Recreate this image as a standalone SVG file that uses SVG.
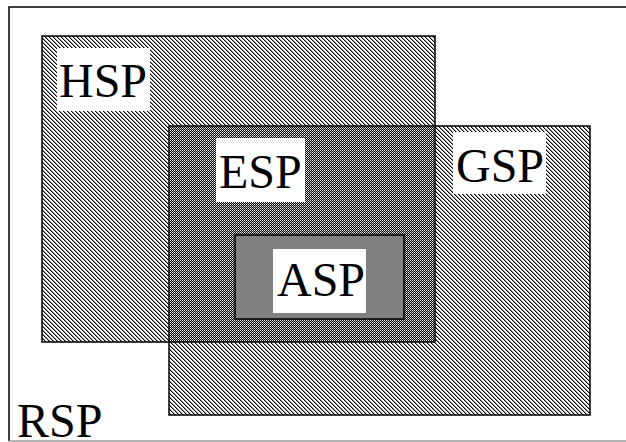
<svg xmlns="http://www.w3.org/2000/svg" width="626" height="442" viewBox="0 0 626 442">
<defs>
<pattern id="hatch" width="4" height="4" patternUnits="userSpaceOnUse">
<rect width="4" height="4" fill="#fff"/>
<path d="M0,0h1v1h-1zM1,1h1v1h-1zM2,2h1v1h-1zM3,3h1v1h-1z" fill="#000"/>
<path d="M1,0h1v1h-1zM2,1h1v1h-1zM3,2h1v1h-1zM0,3h1v1h-1z" fill="#999"/>
</pattern>
<pattern id="checker" width="2" height="2" patternUnits="userSpaceOnUse">
<rect width="2" height="2" fill="#000"/>
<rect width="1" height="1" fill="#fff"/>
<rect x="1" y="1" width="1" height="1" fill="#aaa"/>
</pattern>
<style>
.lbl{font-family:"Liberation Serif","Times New Roman",serif;font-size:48px;fill:#000}
.box{fill:#fff}
.edge{fill:none;stroke:#000;stroke-width:1.5}
</style>
</defs>
<g id="frame">
<path d="M9,441V7H626" fill="none" stroke="#000" stroke-width="1.5"/>
<line x1="9" y1="441" x2="626" y2="441" stroke="#999" stroke-width="1.5"/>
</g>
<g id="HSP">
<rect x="42" y="36" width="393" height="306" fill="url(#hatch)"/>
</g>
<g id="GSP">
<rect x="169" y="126" width="421" height="289" fill="url(#hatch)"/>
</g>
<g id="ESP">
<rect x="169" y="126" width="266" height="216" fill="url(#checker)"/>
</g>
<g id="borders">
<rect class="edge" x="42" y="36" width="393" height="306"/>
<rect class="edge" x="169" y="126" width="421" height="289"/>
</g>
<g id="ASP">
<rect x="235" y="235" width="169" height="84" fill="#808080" stroke="#000" stroke-width="1.5"/>
</g>
<g id="labels">
<rect class="box" x="57" y="48" width="93" height="63"/>
<text class="lbl" x="59" y="97">HSP</text>
<rect class="box" x="216" y="138" width="89" height="64"/>
<text class="lbl" x="219" y="188">ESP</text>
<rect class="box" x="453" y="132" width="93" height="62"/>
<text class="lbl" x="456" y="182">GSP</text>
<rect class="box" x="273" y="249" width="93" height="64"/>
<text class="lbl" x="277" y="296">ASP</text>
<text class="lbl" x="17" y="437">RSP</text>
</g>
</svg>
